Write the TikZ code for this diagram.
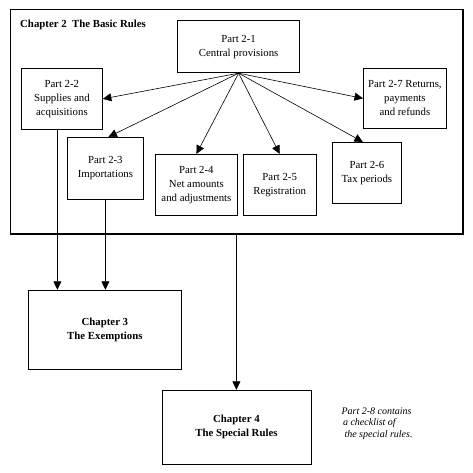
\documentclass[tikz,border=0pt]{standalone}
\usepackage{fontspec}
\setmainfont{Liberation Serif}
\usetikzlibrary{arrows.meta, positioning}

\begin{document}
\begin{tikzpicture}[
    x=1pt, y=-1pt,
    node distance=5pt,
    every node/.style={font=\fontsize{10.8}{14}\selectfont},
    box/.style={rectangle, draw, line width=0.8pt, inner sep=0pt, align=center},
    chapter/.style={box, font=\fontsize{10.8}{14}\selectfont\bfseries},
    frame/.style={rectangle, draw, line width=0.8pt, inner sep=0pt},
    link/.style={-{Triangle[length=8.5pt, width=8pt]}, line width=0.6pt}
]
\useasboundingbox (0,0) rectangle (472,473);

% Nodes
\node [frame, minimum width=452pt, minimum height=224pt, anchor=north west] (ch2) at (10,9) {};
\node [anchor=west, inner sep=0pt, font=\fontsize{10.8}{14}\selectfont\bfseries] (ch2-title) at (20,25) {Chapter 2\ \ The Basic Rules};
\node [box, line width=1.2pt, minimum width=122pt, minimum height=52pt, anchor=north west] (p21) at (177,20) {Part 2-1\\Central provisions};
\node [box, minimum width=81pt, minimum height=61pt, anchor=north west] (p22) at (21,68) {Part 2-2\\Supplies and\\acquisitions};
\node [box, minimum width=76pt, minimum height=62pt, anchor=north west] (p23) at (67,137) {Part 2-3\\Importations};
\node [box, minimum width=82pt, minimum height=61pt, anchor=north west] (p24) at (155,154) {Part 2-4\\Net amounts\\and adjustments};
\node [box, minimum width=73pt, minimum height=61pt, right=5pt of p24] (p25) {Part 2-5\\Registration};
\node [box, minimum width=69pt, minimum height=61pt, anchor=north west] (p26) at (332,142) {Part 2-6\\Tax periods};
\node [box, minimum width=83pt, minimum height=60pt, anchor=north west] (p27) at (363,68) {Part 2-7 Returns,\\payments\\and refunds};
\node [chapter, minimum width=153pt, minimum height=79pt, below right=56pt and 18pt of ch2.south west] (ch3) {Chapter 3\\The Exemptions};
\node [chapter, minimum width=149pt, minimum height=74pt, below=156pt of ch2] (ch4) {Chapter 4\\The Special Rules};
\node [right=30pt of ch4, yshift=3.5pt, inner sep=0pt, align=left, font=\fontsize{10}{11.8}\selectfont\itshape] (note) {Part 2-8 contains\\\hspace*{1.5pt}a checklist of\\\hspace*{3pt}the special rules.};
\coordinate (p22-out) at ([xshift=-4.5pt]p22.south);

% Frame shadow
\draw [line width=2.4pt] (ch2.south west) -- (ch2.south east) -- (ch2.north east);

% Arrows
\draw [link] (p21.south) -- (p22.east);
\draw [link] (p21.south) -- ([xshift=3pt]p23.north);
\draw [link] (p21.south) -- (p24.north);
\draw [link] (p21.south) -- (p25.north);
\draw [link] (p21.south) -- ([xshift=-4pt]p26.north);
\draw [link] (p21.south) -- (p27.west);
\draw [link] (p22-out) -- (p22-out |- ch3.north);
\draw [link] (p23.south) -- (p23.south |- ch3.north);
\draw [link] (ch2.south) -- (ch2.south |- ch4.north);
\end{tikzpicture}
\end{document}
